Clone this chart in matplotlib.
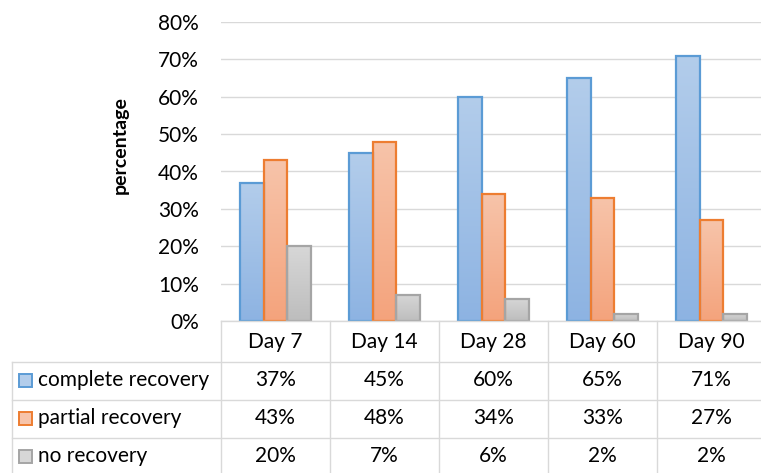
import numpy as np
import matplotlib.pyplot as plt
from matplotlib.colors import LinearSegmentedColormap
from matplotlib.patches import Rectangle

days = ["Day 7", "Day 14", "Day 28", "Day 60", "Day 90"]
complete = [37, 45, 60, 65, 71]
partial = [43, 48, 34, 33, 27]
none_rec = [20, 7, 6, 2, 2]
series_names = ["complete recovery", "partial recovery", "no recovery"]
series_vals = [complete, partial, none_rec]
yticks = [0, 10, 20, 30, 40, 50, 60, 70, 80]

edge_cols = ["#5b9bd5", "#ed7d31", "#a5a5a5"]
grad_cols = [("#8db3e2", "#b3cdeb"), ("#f4a37c", "#f7c4aa"), ("#bdbdbd", "#d7d7d7")]

plt.rcParams["font.family"] = ["Lato", "DejaVu Sans"]
FS = 15
W, H = 761, 473
fig = plt.figure(figsize=(W / 100, H / 100), dpi=100)

# plot area runs a little past the right edge of the canvas
x0, x1, ytop, ybot = 221, 766, 22, 321
ax = fig.add_axes([x0 / W, (H - ybot) / H, (x1 - x0) / W, (ybot - ytop) / H])

bw = 0.22
grad = np.linspace(0, 1, 256).reshape(-1, 1)
for k, vals in enumerate(series_vals):
    cmap = LinearSegmentedColormap.from_list("g%d" % k, grad_cols[k])
    xs = np.arange(len(days)) + (k - 1) * bw
    bars = ax.bar(xs, vals, bw, facecolor="none", edgecolor=edge_cols[k],
                  linewidth=1.6, zorder=3)
    for b in bars:
        im = ax.imshow(grad, cmap=cmap, origin="lower", aspect="auto",
                       extent=[b.get_x(), b.get_x() + b.get_width(), 0, b.get_height()],
                       zorder=2)
        im.set_clip_path(b)
ax.set_xlim(-0.5, len(days) - 0.5)
ax.set_ylim(0, 80)

ax.set_yticks(yticks)
ax.set_yticklabels(["%d%%" % t for t in yticks])
ax.tick_params(axis="y", length=0, pad=16, labelsize=FS)
ax.set_xticks([])
ax.grid(axis="y", color="#d9d9d9", linewidth=1.0, zorder=0)
ax.set_axisbelow(True)
for s in ax.spines.values():
    s.set_visible(False)
fig.text(120 / W, 1 - 145 / H, "percentage", rotation=90, ha="center", va="center",
         fontsize=14, fontweight="bold")

# data table underneath, in pixel coordinates
tab = fig.add_axes([0, 0, 1, 1], facecolor="none")
tab.set_xlim(0, W)
tab.set_ylim(H, 0)
tab.axis("off")
lc = "#d9d9d9"
cw = (x1 - x0) / len(days)
rows = [321, 362, 400, 438, 476]
tab.plot([x0, x1], [rows[0], rows[0]], color=lc, lw=1.0)
for r in rows[1:4]:
    tab.plot([12, x1], [r, r], color=lc, lw=1.0)
tab.plot([12, 12], [rows[1], H], color=lc, lw=1.0)
for i in range(len(days) + 1):
    xv = x0 + i * cw
    tab.plot([xv, xv], [rows[0], H], color=lc, lw=1.0)

for i, d in enumerate(days):
    tab.text(x0 + (i + 0.5) * cw, (rows[0] + rows[1]) / 2, d, ha="center",
             va="center", fontsize=FS)
for k, vals in enumerate(series_vals):
    yc = (rows[k + 1] + rows[k + 2]) / 2 - 1
    tab.add_patch(Rectangle((19, yc - 6.5), 13, 13, facecolor=grad_cols[k][1],
                            edgecolor=edge_cols[k], lw=1.4))
    tab.text(38, yc, series_names[k], ha="left", va="center", fontsize=FS)
    for i, v in enumerate(vals):
        tab.text(x0 + (i + 0.5) * cw, yc, "%d%%" % v, ha="center", va="center",
                 fontsize=FS)

fig.savefig("out.png", dpi=100)
